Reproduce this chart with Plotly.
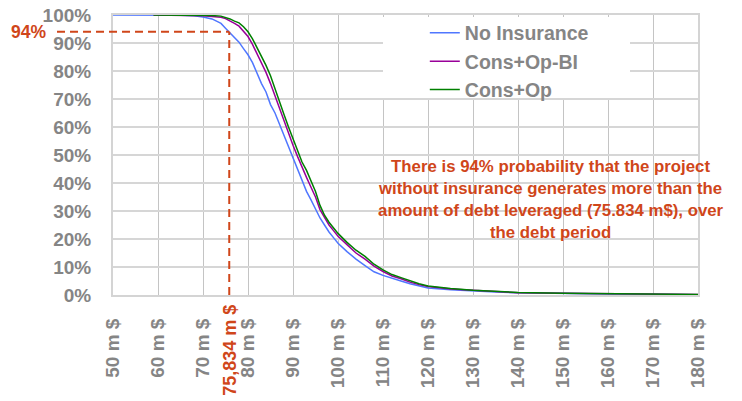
import plotly.graph_objects as go

# ---------------- data ----------------
x_no_ins = [50, 55, 60, 65, 68, 70, 72, 74, 75, 76, 77, 78, 79, 80, 81, 82, 83, 84, 85, 86,
            87, 88, 89, 90, 91, 92, 93, 94, 95, 96, 97, 98, 99, 100, 102, 104, 106, 108, 110,
            112, 114, 116, 118, 120, 125, 130, 135, 140, 150, 160, 170, 180]
y_no_ins = [100, 100, 100, 99.9, 99.7, 99.3, 98.6, 97, 95.3, 93.7, 91.8, 90.3, 88, 85.8, 83, 79,
            75.5, 72.5, 68, 65, 61, 57, 52.5, 48.5, 44.5, 41, 37, 34, 30.5, 27.5, 25, 22.5, 20.5,
            18.5, 15.5, 12.8, 10.5, 8.3, 7, 5.9, 5, 4, 3.2, 2.5, 1.9, 1.4, 1.1, 0.8, 0.5, 0.4,
            0.3, 0.1]

x_ins = [59, 65, 70, 72, 74, 75, 76, 77, 78, 79, 80, 81, 82, 83, 84, 85, 86, 87, 88, 89, 90,
         91, 92, 93, 94, 95, 96, 97, 98, 99, 100, 102, 104, 106, 108, 110, 112, 114, 116, 118,
         120, 125, 130, 135, 140, 150, 160, 170, 180]
y_cons_op_bi = [100, 99.9, 99.7, 99.5, 99.2, 98.7, 97.9, 97, 96, 94.2, 92.3, 89.5, 86.3, 83,
                79.5, 75.5, 71, 66.5, 62, 57.5, 53.5, 49.5, 45.5, 42, 38.5, 35, 30.5, 27.5, 25,
                23, 21, 18, 15, 12.8, 10.3, 8.4, 6.8, 5.8, 4.6, 3.7, 3, 2.1, 1.6, 1.1, 0.8, 0.6,
                0.5, 0.3, 0.2]
y_cons_op = [100, 100, 99.9, 99.8, 99.6, 99.2, 98.6, 97.8, 97.2, 95.8, 94, 91.5, 88.5, 85.5,
             82, 78.3, 73.5, 69, 64.5, 60, 56, 51.5, 47.5, 44.5, 40.5, 37, 32, 28.5, 26, 24, 22,
             18.8, 16, 13.8, 11, 9, 7.3, 6.2, 5, 4, 3.2, 2.3, 1.7, 1.2, 0.9, 0.6, 0.5, 0.3, 0.2]

series_names = ["No Insurance", "Cons+Op-BI", "Cons+Op"]

x_ticks = [50, 60, 70, 80, 90, 100, 110, 120, 130, 140, 150, 160, 170, 180]
x_tick_labels = [f"<b>{v} m $</b>" for v in x_ticks]
y_ticks = [0, 10, 20, 30, 40, 50, 60, 70, 80, 90, 100]
y_tick_labels = [f"<b>{v}%</b>" for v in y_ticks]

DEBT = 75.834
DEBT_LABEL = "75,834 m $"
PROB = 94
PROB_LABEL = "94%"
NOTE = ("There is 94% probability that the project<br>without insurance generates more than the"
        "<br>amount of debt leveraged (75.834 m$), over<br>the debt period")

# ---------------- style ----------------
FONT = "Liberation Sans, Arial, sans-serif"
GREY = "#858585"
RED = "#D0461A"
X_RANGE = [50, 180]
Y_RANGE = [0, 100]

fig = go.Figure()
fig.add_trace(go.Scatter(x=x_no_ins, y=y_no_ins, mode="lines", name=f"<b>{series_names[0]}</b>",
                         line=dict(color="#5077FF", width=1.5)))
fig.add_trace(go.Scatter(x=x_ins, y=y_cons_op_bi, mode="lines", name=f"<b>{series_names[1]}</b>",
                         line=dict(color="#990099", width=1.5)))
fig.add_trace(go.Scatter(x=x_ins, y=y_cons_op, mode="lines", name=f"<b>{series_names[2]}</b>",
                         line=dict(color="#008000", width=1.5)))

debt_px = (DEBT - X_RANGE[0]) / (X_RANGE[1] - X_RANGE[0])
prob_px = (PROB - Y_RANGE[0]) / (Y_RANGE[1] - Y_RANGE[0])

shapes = [
    # white box behind legend
    dict(type="rect", xref="paper", yref="paper", x0=0.4615, x1=0.8838, y0=0.7036, y1=0.993,
         fillcolor="white", line=dict(width=0), layer="above"),
    # horizontal dashed line
    dict(type="line", xref="paper", yref="paper", x0=-0.0957, x1=debt_px, y0=prob_px, y1=prob_px,
         line=dict(color=RED, width=2, dash="8px,5px"), layer="above"),
    # vertical dashed line
    dict(type="line", xref="paper", yref="paper", x0=debt_px, x1=debt_px, y0=0, y1=prob_px,
         line=dict(color=RED, width=2, dash="8px,5px"), layer="above"),
]

annotations = [
    dict(text=f"<b>{PROB_LABEL}</b>", xref="paper", yref="y", x=-0.111, y=PROB,
         xanchor="right", yanchor="middle", showarrow=False,
         font=dict(family=FONT, size=17.5, color=RED)),
    dict(text=f"<b>{DEBT_LABEL}</b>", xref="x", yref="paper", x=DEBT, y=-0.0286,
         xanchor="center", yanchor="top", showarrow=False, textangle=-90,
         font=dict(family=FONT, size=18, color=RED)),
    dict(text=f"<b>{NOTE}</b>", xref="paper", yref="paper", x=0.749, y=0.50,
         xanchor="center", yanchor="top", showarrow=False, align="center",
         font=dict(family=FONT, size=16.8, color=RED)),
]

fig.update_layout(
    width=742, height=401,
    margin=dict(l=113, r=44, t=15, b=106, autoexpand=False),
    paper_bgcolor="white", plot_bgcolor="white",
    font=dict(family=FONT, color=GREY),
    showlegend=True,
    legend=dict(x=0.533, y=1.005, xanchor="left", yanchor="top", bgcolor="rgba(0,0,0,0)",
                font=dict(family=FONT, size=19.5, color=GREY),
                itemwidth=30, tracegroupgap=0),
    shapes=shapes,
    annotations=annotations,
)

fig.update_xaxes(range=X_RANGE, tickmode="array", tickvals=x_ticks, ticktext=x_tick_labels,
                 tickangle=-90, tickfont=dict(family=FONT, size=19, color=GREY),
                 showgrid=True, gridcolor="#C4C4C4", gridwidth=1, automargin=False,
                 showline=True, linecolor="#D4D4D4", linewidth=2, mirror=True,
                 ticks="", ticklabelstandoff=14, zeroline=False)
fig.update_yaxes(range=Y_RANGE, tickmode="array", tickvals=y_ticks, ticktext=y_tick_labels,
                 tickfont=dict(family=FONT, size=19, color=GREY), automargin=False,
                 showgrid=True, gridcolor="#D6D6D6", gridwidth=2,
                 showline=True, linecolor="#D4D4D4", linewidth=2, mirror=True,
                 ticks="", ticklabelstandoff=16, zeroline=False)

fig.write_html("out.html", config={"displayModeBar": False},
               post_script="document.body.style.margin='0px';")
